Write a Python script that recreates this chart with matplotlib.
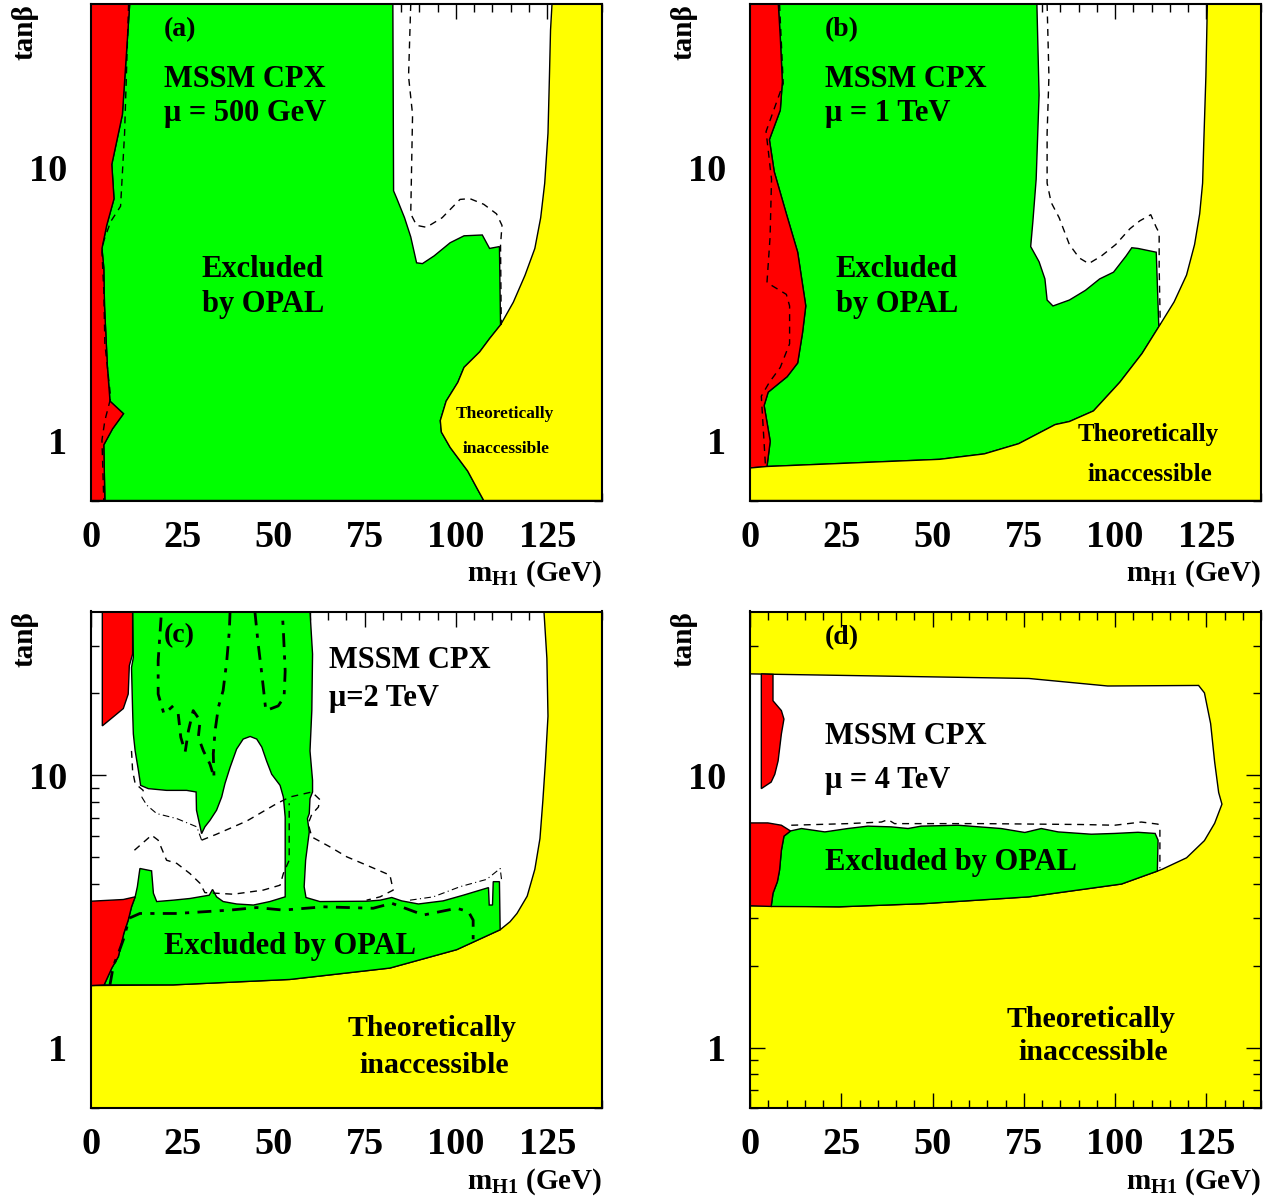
import matplotlib
matplotlib.use("Agg")
import matplotlib.pyplot as plt
from matplotlib.ticker import FixedLocator, NullFormatter, MultipleLocator

plt.rcParams["font.family"] = ["Liberation Serif", "DejaVu Serif"]
plt.rcParams["font.weight"] = "bold"
plt.rcParams["mathtext.fontset"] = "custom"
plt.rcParams["mathtext.rm"] = "Liberation Serif:bold"
plt.rcParams["mathtext.it"] = "Liberation Serif:bold"
plt.rcParams["mathtext.bf"] = "Liberation Serif:bold"

RED, GREEN, YELLOW = "#ff0000", "#00ff00", "#ffff00"

# ---- panel (a): mu = 500 GeV ----  points are (m_H1 [GeV], tan beta)
a_red_edge = [(10.6, 40), (8.6, 15.7), (5.7, 10.3), (6.3, 7.7), (4.3, 6.15), (3.0, 5.06),
              (3.5, 4.3), (3.7, 3.11), (4.5, 1.85), (5.2, 1.39), (8.9, 1.25), (5.9, 1.10),
              (3.5, 0.96), (3.8, 0.6)]
a_green_white = [(82.7, 40), (82.9, 8.23), (83.8, 7.71), (85.9, 6.56), (87.6, 5.58), (89.2, 4.48),
                 (90.8, 4.45), (94.0, 4.75), (98.4, 5.31), (102.2, 5.63), (107.2, 5.67),
                 (109.2, 5.06), (111.9, 5.14), (112.2, 2.65)]
a_yellow_low = [(112.2, 2.65), (109.2, 2.36), (106.5, 2.11), (102.2, 1.85), (100.5, 1.63),
                (97.3, 1.39), (95.7, 1.18), (96.0, 1.07), (98.4, 0.94), (103.2, 0.77),
                (105.9, 0.66), (107.6, 0.6)]
a_yellow_high = [(112.2, 2.65), (115.7, 3.21), (118.9, 4.03), (121.6, 5.06), (123.2, 6.56),
                 (124.3, 8.78), (125.2, 13.4), (125.6, 21.7), (125.9, 32.1), (126.3, 40)]
a_dash_left = [(10.3, 40), (9.2, 13.4), (8.1, 7.23), (5.4, 6.35), (3.5, 5.40), (3.0, 4.90),
               (3.5, 3.55), (3.8, 2.26), (5.4, 1.43), (3.8, 1.18), (3.0, 1.0), (3.5, 0.6)]
a_dash_right = [(87.6, 40), (87.0, 21.7), (88.1, 15.7), (87.6, 6.78), (89.2, 6.15), (91.9, 6.05),
                (96.2, 6.56), (101.1, 7.66), (103.8, 7.71), (107.6, 7.35), (111.1, 6.78),
                (112.6, 6.15), (112.2, 5.22), (112.4, 2.65)]

# ---- panel (b): mu = 1 TeV ----
b_red_edge = [(7.75, 40), (8.30, 30.1), (8.86, 20.7), (8.30, 16.3), (5.31, 12.7), (6.64, 9.68),
              (9.96, 6.78), (13.06, 4.90), (15.28, 3.11), (14.39, 2.48), (13.06, 1.92),
              (10.18, 1.71), (4.98, 1.50), (3.87, 1.34), (5.54, 0.99), (4.65, 0.80)]
b_yellow_low = [(4.65, 0.80), (52.0, 0.85), (64.2, 0.89), (73.6, 0.97), (83.6, 1.14),
                (87.5, 1.17), (94.1, 1.28), (101.3, 1.63), (107.4, 2.08), (112.0, 2.61)]
b_yellow_high = [(112.0, 2.61), (116.2, 3.22), (119.6, 4.04), (121.8, 5.23), (123.2, 6.78),
                 (124.0, 8.79), (124.3, 12.1), (124.9, 21.7), (125.3, 40)]
b_green_white = [(78.6, 40), (79.2, 18.5), (78.4, 9.08), (77.5, 6.35), (76.9, 5.14), (79.2, 4.52),
                 (80.8, 3.91), (81.4, 3.27), (83.0, 3.11), (87.5, 3.27), (91.9, 3.55),
                 (95.8, 3.91), (99.6, 4.14), (103.0, 4.74), (104.6, 5.09), (106.3, 5.06),
                 (111.3, 4.90), (112.0, 2.61)]
b_dash_left = [(8.1, 40), (9.1, 20.4), (4.4, 13.6), (5.9, 9.08), (5.5, 5.58), (4.65, 3.79),
               (9.96, 3.43), (10.85, 3.11), (10.85, 2.26), (8.3, 1.85), (5.3, 1.63),
               (3.1, 1.45), (4.2, 0.82)]
b_dash_right = [(81.4, 40), (81.9, 21.7), (81.4, 13.4), (81.4, 8.79), (82.5, 7.47), (84.7, 6.56),
                (87.5, 5.23), (90.2, 4.67), (92.8, 4.45), (96.3, 4.75), (100.2, 5.23),
                (104.1, 5.98), (106.8, 6.39), (109.8, 6.73), (111.3, 6.05), (112.1, 5.77),
                (112.1, 4.31), (112.4, 2.65)]

# ---- panel (c): mu = 2 TeV ----
c_yellow_edge = [(0, 1.69), (22.5, 1.70), (54.5, 1.78), (81.9, 1.96), (100.2, 2.29), (112.1, 2.71),
                 (114.8, 2.90), (116.7, 3.11), (119.5, 3.60), (121.6, 4.52), (123.0, 5.86),
                 (123.8, 8.09), (124.5, 11.2), (125.2, 16.5), (124.9, 26.9), (124.1, 40)]
c_red_low = [(0, 1.69), (0, 3.45), (8.85, 3.50), (12.1, 3.58), (11.1, 3.29), (10.2, 2.94),
             (9.0, 2.63), (7.5, 2.16), (5.7, 1.96), (3.6, 1.70)]
c_red_up = [(3.1, 40), (11.4, 40), (11.4, 27.9), (10.5, 25.3), (10.2, 19.9), (8.85, 17.6),
            (6.1, 16.4), (3.1, 15.2)]
c_green = [(3.6, 1.70), (5.7, 1.96), (7.5, 2.16), (9.0, 2.63), (10.2, 2.94), (11.1, 3.29),
           (12.1, 3.58), (12.7, 3.90), (13.4, 4.55), (16.6, 4.46), (17.1, 3.69), (18.0, 3.44),
           (22.5, 3.48), (27.1, 3.53), (32.4, 3.63), (33.3, 3.81), (34.4, 3.58), (36.2, 3.44),
           (39.9, 3.37), (44.5, 3.34), (49.0, 3.44), (53.2, 3.58), (53.2, 4.88), (53.2, 7.03),
           (52.7, 8.33), (51.8, 9.19), (49.5, 10.1), (48.1, 11.3), (46.8, 12.7), (45.4, 13.6),
           (43.6, 13.9), (41.7, 13.6), (39.9, 12.5), (38.1, 10.7), (36.7, 9.33), (35.8, 8.33),
           (34.4, 7.45), (32.6, 6.84), (31.2, 6.47), (30.3, 6.11), (29.9, 6.47), (28.9, 7.45),
           (28.8, 8.69), (26.2, 8.81), (20.7, 8.81), (15.7, 8.94), (13.6, 9.19), (13.0, 10.4),
           (12.1, 12.3), (11.6, 14.2), (11.4, 17.3), (11.1, 24.9), (11.6, 27.1), (11.4, 40),
           (60.0, 40), (60.7, 27.9), (60.5, 17.3), (60.0, 12.3), (60.7, 9.59), (60.7, 8.69),
           (60.0, 8.22), (59.8, 7.24), (59.3, 6.94), (59.8, 6.20), (58.8, 4.88), (58.4, 3.90),
           (58.9, 3.56), (62.7, 3.44), (75.5, 3.45), (79.2, 3.48), (82.4, 3.56), (85.1, 3.46),
           (89.7, 3.37), (96.5, 3.46), (102.0, 3.63), (108.9, 3.87), (109.1, 3.34),
           (110.0, 3.34), (110.2, 4.07), (111.9, 4.07), (112.1, 2.71), (100.2, 2.29),
           (81.9, 1.96), (54.5, 1.78), (22.5, 1.70)]
c_dash_1 = [(11.1, 12.3), (11.4, 10.4), (12.1, 9.33), (14.3, 8.81), (13.9, 8.33)]
c_dashdot_thin = [(13.9, 8.33), (15.3, 7.77), (18.0, 7.24), (23.5, 6.94), (29.0, 6.47), (30.3, 5.78)]
c_dash_2 = [(30.3, 5.78), (34.4, 6.08), (42.7, 6.80), (50.9, 7.88), (54.5, 8.33), (60.5, 8.69),
            (62.7, 8.15), (62.3, 7.65), (60.5, 7.20), (59.5, 6.65), (60.5, 5.94), (65.5, 5.46),
            (70.1, 5.02), (75.5, 4.68), (81.9, 4.30), (82.8, 3.79), (79.2, 3.58), (75.5, 3.48)]
c_dash_3 = [(11.9, 5.31), (16.6, 6.03), (18.4, 5.78), (20.7, 4.88), (23.5, 4.75), (27.1, 4.36),
            (29.9, 4.01), (31.2, 3.71), (39.0, 3.66), (47.2, 3.79), (51.8, 3.95), (52.7, 4.36),
            (54.3, 4.88), (54.3, 7.9)]
c_dashdot_band_top = [(87.4, 3.48), (93.8, 3.58), (101.1, 3.90), (108.4, 4.15), (112.1, 4.55),
                      (112.5, 4.12)]
c_dashdot_band = [(5.2, 1.70), (6.1, 1.99), (7.5, 2.22), (8.85, 2.49), (10.5, 2.99), (13.4, 3.11),
                  (23.5, 3.11), (38.1, 3.20), (45.4, 3.27), (52.7, 3.20), (63.6, 3.29),
                  (77.3, 3.25), (82.4, 3.39), (91.1, 3.07), (100.2, 3.25), (103.4, 3.16),
                  (104.7, 2.94), (104.7, 2.49)]
c_dashdot_b = [(19.2, 38.0), (18.4, 26.4), (18.4, 19.9), (20.0, 16.8), (22.5, 18.0)]
c_dash_b = [(23.9, 16.8), (24.6, 13.8), (25.8, 12.2), (26.7, 14.6), (28.0, 17.3), (29.9, 15.9),
            (29.4, 13.8), (30.8, 12.3), (32.6, 11.0), (33.7, 9.86)]
c_dashdot_c = [(38.1, 40), (37.9, 34.0), (37.2, 26.4), (36.2, 20.5), (34.9, 17.8), (34.0, 14.6),
               (33.5, 12.0), (33.7, 9.86)]
c_dashdot_d = [(44.9, 40), (45.8, 30.4), (46.8, 23.6), (47.9, 17.3), (51.3, 18.0), (52.9, 19.4),
               (53.2, 24.2), (52.7, 34.0), (52.4, 40)]

# ---- panel (d): mu = 4 TeV ----
d_white_top = [(0, 23.6), (76.4, 22.7), (98.0, 21.3), (122.9, 21.4), (124.5, 20.1), (126.2, 15.5),
               (127.3, 11.2), (128.4, 8.65), (129.3, 7.84), (127.3, 6.67), (124.5, 5.76),
               (119.6, 4.98), (112.9, 4.52), (111.6, 4.45)]
d_yellow_low = [(0, 3.32), (5.5, 3.32), (24.4, 3.29), (47.6, 3.38), (76.4, 3.58), (101.8, 3.99),
                (108.5, 4.30), (111.6, 4.45)]
d_red_low = [(0, 3.32), (0, 6.69), (4.9, 6.69), (8.6, 6.56), (11.1, 6.25), (9.3, 5.98),
             (8.6, 5.31), (8.1, 4.49), (7.5, 4.07), (6.3, 3.69), (5.8, 3.30)]
d_green = [(11.1, 6.25), (9.3, 5.98), (8.6, 5.31), (8.1, 4.49), (7.5, 4.07), (6.3, 3.69),
           (5.8, 3.30), (24.4, 3.29), (47.6, 3.38), (76.4, 3.58), (101.8, 3.99), (108.5, 4.30),
           (111.6, 4.45), (111.8, 5.78), (111.0, 6.12), (106.3, 6.18), (99.9, 6.12),
           (93.5, 6.08), (84.4, 6.20), (79.8, 6.38), (75.3, 6.17), (68.8, 6.38), (57.0, 6.56),
           (46.9, 6.51), (43.3, 6.38), (38.7, 6.47), (32.3, 6.51), (26.8, 6.38), (20.5, 6.20),
           (14.1, 6.38)]
d_red_up = [(3.1, 23.6), (6.3, 23.5), (6.3, 18.8), (8.6, 17.3), (9.3, 16.1), (8.6, 14.2),
            (7.7, 11.3), (6.8, 10.1), (5.8, 9.45), (3.1, 8.94)]
d_dash = [(11.3, 6.56), (26.8, 6.65), (36.0, 6.74), (37.8, 6.88), (39.6, 6.65), (63.4, 6.65),
          (90.8, 6.60), (99.9, 6.56), (107.2, 6.74), (111.8, 6.62), (112.3, 6.47), (112.3, 4.56)]

X_TICKS = [0, 25, 50, 75, 100, 125]
Y_TICKS = [1, 10]
Y_MINOR = [0.6, 0.7, 0.8, 0.9, 2, 3, 4, 5, 6, 7, 8, 9, 20, 30]

DASH = (0, (5, 4))
DASHDOT_THIN = (0, (6, 3, 1, 3))
DASHDOT_THICK = (0, (5, 3, 1.5, 3))


def xy(pts):
    return [p[0] for p in pts], [p[1] for p in pts]


def poly(ax, pts, color):
    xs, ys = xy(pts)
    ax.fill(xs, ys, facecolor=color, edgecolor="black", linewidth=1.0, zorder=2)


def line(ax, pts, style, lw=1.0):
    xs, ys = xy(pts)
    ax.plot(xs, ys, color="black", linestyle=style, linewidth=lw, zorder=3)


def setup(ax, facecolor="white"):
    ax.set_facecolor(facecolor)
    ax.set_xlim(0, 140)
    ax.set_yscale("log")
    ax.set_ylim(0.6, 40)
    ax.xaxis.set_major_locator(FixedLocator(X_TICKS))
    ax.xaxis.set_minor_locator(MultipleLocator(5))
    ax.set_xticklabels([str(t) for t in X_TICKS])
    ax.yaxis.set_major_locator(FixedLocator(Y_TICKS))
    ax.yaxis.set_minor_locator(FixedLocator(Y_MINOR))
    ax.yaxis.set_minor_formatter(NullFormatter())
    ax.set_yticklabels([str(t) for t in Y_TICKS])
    ax.tick_params(which="both", direction="in", top=True, right=True, width=1.0)
    ax.tick_params(which="major", length=11, labelsize=27.5)
    ax.tick_params(which="minor", length=5.5)
    ax.tick_params(axis="x", which="major", pad=14)
    ax.tick_params(axis="y", which="major", pad=17)
    for lab in ax.get_xticklabels() + ax.get_yticklabels():
        lab.set_fontweight("bold")
    for sp in ax.spines.values():
        sp.set_linewidth(1.5)
        sp.set_zorder(5)
    ax.text(-0.13, 1.0, "tanβ", transform=ax.transAxes, rotation=90,
            ha="center", va="top", fontsize=21, fontweight="bold")
    ax.text(1.0, -0.148, r"$\mathrm{m_{H1}}$ (GeV)", transform=ax.transAxes,
            ha="right", va="center", fontsize=21, fontweight="bold")


fig = plt.figure(figsize=(12.75, 12.03), dpi=100)
W, H = 511 / 1275, 496.5 / 1203
ax_a = fig.add_axes([91 / 1275, 1 - 500.5 / 1203, W, H])
ax_b = fig.add_axes([750 / 1275, 1 - 500.5 / 1203, W, H])
ax_c = fig.add_axes([91 / 1275, 1 - 1108 / 1203, W, H])
ax_d = fig.add_axes([750 / 1275, 1 - 1108 / 1203, W, H])

kw = dict(fontweight="bold", zorder=6)

# (a)
setup(ax_a)
poly(ax_a, a_red_edge + a_yellow_low[::-1] + a_green_white[::-1], GREEN)
poly(ax_a, [(0, 0.6), (0, 40)] + a_red_edge, RED)
poly(ax_a, a_yellow_low + [(140, 0.6), (140, 40)] + a_yellow_high[::-1], YELLOW)
line(ax_a, a_dash_left, DASH)
line(ax_a, a_dash_right, DASH)
ax_a.text(20, 32.1, "(a)", fontsize=20, va="center", **kw)
ax_a.text(20, 21.1, "MSSM CPX", fontsize=22, va="center", **kw)
ax_a.text(20, 15.8, "μ = 500 GeV", fontsize=22, va="center", **kw)
ax_a.text(30.3, 4.25, "Excluded", fontsize=22, va="center", **kw)
ax_a.text(30.3, 3.15, "by OPAL", fontsize=22, va="center", **kw)
ax_a.text(113.5, 1.25, "Theoretically", fontsize=12.5, ha="center", va="center", **kw)
ax_a.text(113.8, 0.93, "inaccessible", fontsize=12.5, ha="center", va="center", **kw)

# (b)
setup(ax_b)
poly(ax_b, b_red_edge + b_yellow_low[1:] + b_green_white[::-1], GREEN)
poly(ax_b, [(0, 0.79), (0, 40)] + b_red_edge, RED)
poly(ax_b, [(0, 0.79)] + b_yellow_low + b_yellow_high[1:] + [(140, 40), (140, 0.6), (0, 0.6)], YELLOW)
line(ax_b, b_dash_left, DASH)
line(ax_b, b_dash_right, DASH)
ax_b.text(20.5, 32.1, "(b)", fontsize=20, va="center", **kw)
ax_b.text(20.5, 21.1, "MSSM CPX", fontsize=22, va="center", **kw)
ax_b.text(20.5, 15.8, "μ = 1 TeV", fontsize=22, va="center", **kw)
ax_b.text(23.5, 4.25, "Excluded", fontsize=22, va="center", **kw)
ax_b.text(23.5, 3.15, "by OPAL", fontsize=22, va="center", **kw)
ax_b.text(109.0, 1.05, "Theoretically", fontsize=18, ha="center", va="center", **kw)
ax_b.text(109.6, 0.75, "inaccessible", fontsize=18, ha="center", va="center", **kw)

# (c)
setup(ax_c)
poly(ax_c, c_yellow_edge + [(140, 40), (140, 0.6), (0, 0.6)], YELLOW)
poly(ax_c, c_green, GREEN)
poly(ax_c, c_red_low, RED)
poly(ax_c, c_red_up, RED)
line(ax_c, c_dash_1, DASH)
line(ax_c, c_dashdot_thin, DASHDOT_THIN, 0.8)
line(ax_c, c_dash_2, DASH)
line(ax_c, c_dash_3, DASH)
line(ax_c, c_dashdot_band_top, DASHDOT_THIN, 0.8)
line(ax_c, c_dashdot_band, DASHDOT_THICK, 2.0)
line(ax_c, c_dashdot_b, DASHDOT_THICK, 2.0)
line(ax_c, c_dash_b, (0, (4, 3)), 2.0)
line(ax_c, c_dashdot_c, DASHDOT_THICK, 2.0)
line(ax_c, c_dashdot_d, DASHDOT_THICK, 2.0)
ax_c.text(20.0, 32.7, "(c)", fontsize=20, va="center", **kw)
ax_c.text(65.1, 26.5, "MSSM CPX", fontsize=22, va="center", **kw)
ax_c.text(65.1, 19.1, "μ=2 TeV", fontsize=22, va="center", **kw)
ax_c.text(20.0, 2.36, "Excluded by OPAL", fontsize=22, va="center", **kw)
ax_c.text(93.5, 1.18, "Theoretically", fontsize=21.5, ha="center", va="center", **kw)
ax_c.text(94.0, 0.86, "inaccessible", fontsize=21.5, ha="center", va="center", **kw)

# (d)
setup(ax_d, YELLOW)
poly(ax_d, d_white_top + d_yellow_low[::-1], "white")
poly(ax_d, d_green, GREEN)
poly(ax_d, d_red_low, RED)
poly(ax_d, d_red_up, RED)
line(ax_d, d_dash, DASH)
ax_d.text(20.5, 32.1, "(d)", fontsize=20, va="center", **kw)
ax_d.text(20.5, 13.9, "MSSM CPX", fontsize=22, va="center", **kw)
ax_d.text(20.5, 9.55, "μ = 4 TeV", fontsize=22, va="center", **kw)
ax_d.text(20.5, 4.8, "Excluded by OPAL", fontsize=22, va="center", **kw)
ax_d.text(93.5, 1.27, "Theoretically", fontsize=21.5, ha="center", va="center", **kw)
ax_d.text(94.1, 0.96, "inaccessible", fontsize=21.5, ha="center", va="center", **kw)

fig.savefig("out.png", dpi=100)
